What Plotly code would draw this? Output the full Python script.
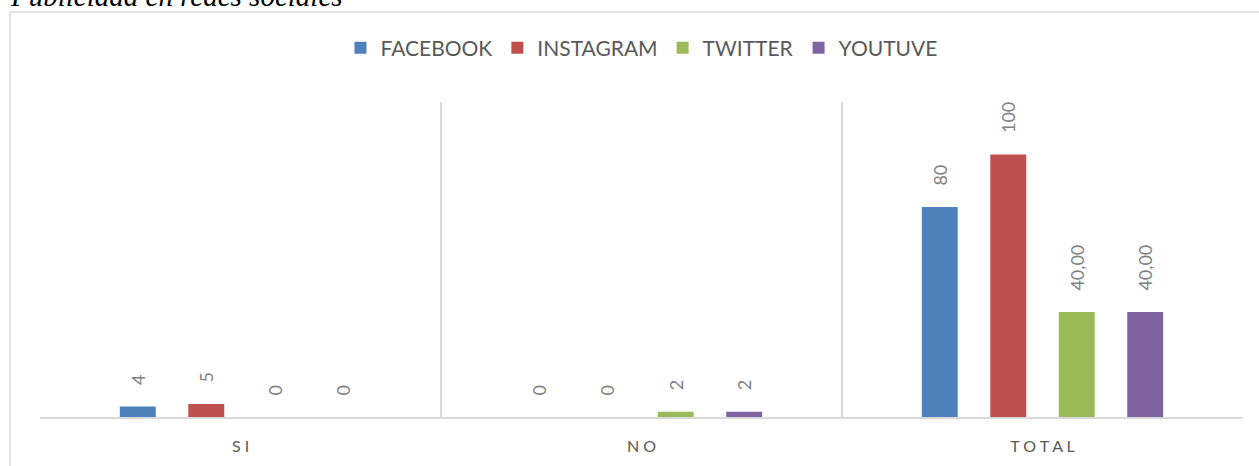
import plotly.graph_objects as go

categories = ["S I", "N O", "T O T A L"]
facebook = [4, 0, 80]
instagram = [5, 0, 100]
twitter = [0, 2, 40]
youtuve = [0, 2, 40]
facebook_lbl = ["4", "0", "80"]
instagram_lbl = ["5", "0", "100"]
twitter_lbl = ["0", "2", "40,00"]
youtuve_lbl = ["0", "2", "40,00"]
series_names = ["FACEBOOK", "INSTAGRAM", "TWITTER", "YOUTUVE"]
colors = ["#4f81bd", "#c0504d", "#9bbb59", "#8064a2"]

PAD = "\u00a0" * 4
fig = go.Figure()
for name, vals, lbls, col in zip(series_names,
                                 [facebook, instagram, twitter, youtuve],
                                 [facebook_lbl, instagram_lbl, twitter_lbl, youtuve_lbl],
                                 colors):
    fig.add_trace(go.Bar(
        name=name, x=categories, y=vals, marker=dict(color=col, line=dict(width=0)),
        text=[PAD + t for t in lbls], textposition="outside", textangle=-90,
        constraintext="none",
        textfont=dict(family="Lato", size=18, color="#7f7f7f"),
        cliponaxis=False, hoverinfo="skip",
    ))

W, H = 1259, 466
L, R, T, B = 40, 16, 102, 49
pw, ph = W - L - R, H - T - B

def px_x(p):
    return (p - L) / pw

def px_y(p):
    return (H - B - p) / ph

fig.update_layout(
    width=W, height=H,
    margin=dict(l=L, r=R, t=T, b=B),
    paper_bgcolor="white", plot_bgcolor="white",
    barmode="group", bargap=0.317, bargroupgap=0.475,
    showlegend=True,
    legend=dict(orientation="h", x=0.5, xanchor="center", y=px_y(48), yanchor="middle",
                font=dict(family="Lato", size=21, color="#595959"),
                itemwidth=30, traceorder="normal"),
    xaxis=dict(showline=True, linecolor="#d9d9d9", linewidth=1.5,
               showgrid=True, gridcolor="#d9d9d9", gridwidth=1.5, tickson="boundaries",
               ticks="", ticklabelstandoff=14,
               tickfont=dict(family="Lato", size=16, color="#595959"),
               mirror=False, zeroline=False),
    yaxis=dict(range=[0, 120], showticklabels=False, showgrid=False, zeroline=False,
               showline=False, ticks=""),
    shapes=[dict(type="rect", xref="paper", yref="paper",
                 x0=px_x(10), x1=px_x(1300), y0=px_y(520), y1=px_y(12),
                 line=dict(color="#d9d9d9", width=1.5), layer="below")],
    annotations=[dict(text="<i>Publicidad en redes sociales</i>", xref="paper", yref="paper",
                      x=px_x(8), xanchor="left", y=px_y(14), yanchor="bottom",
                      showarrow=False,
                      font=dict(family="Liberation Serif", size=29, color="black"))],
)

fig.write_html("out.html")
